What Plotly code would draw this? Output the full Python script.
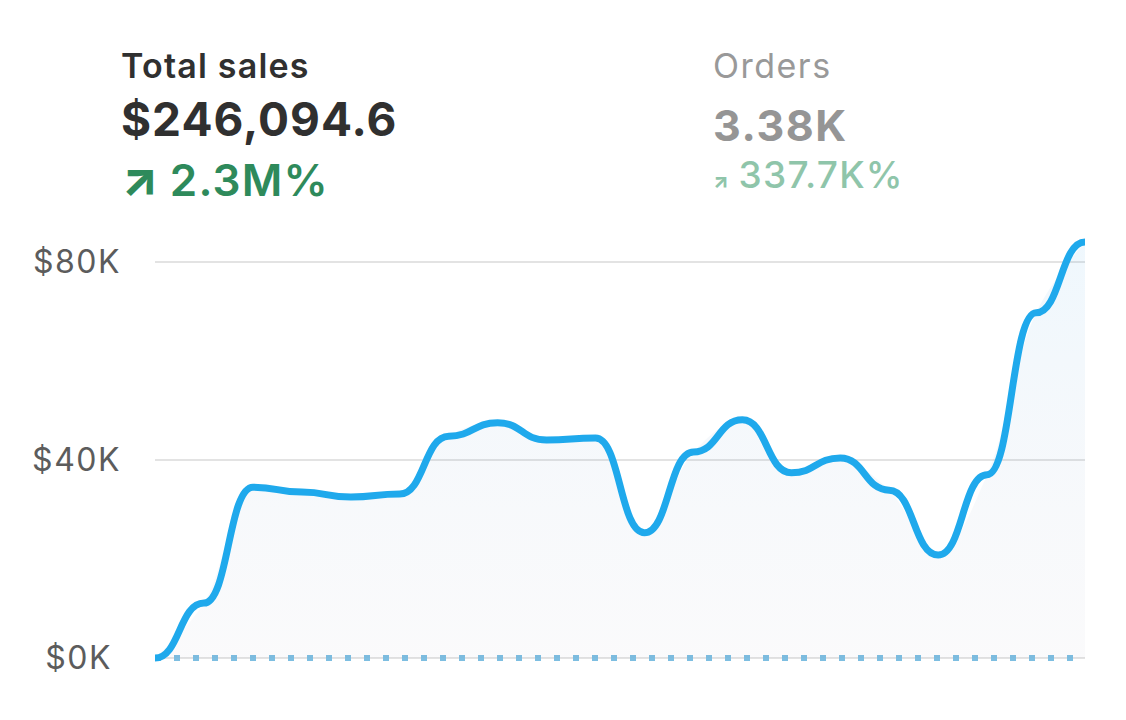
"""
Total sales sparkline card: sales per period with a dotted comparison line.
"""

import plotly.graph_objects as go

# sales per period, in thousands of dollars
periods = list(range(20))
sales_k = [0, 11.1, 34.5, 33.5, 32.5, 33.1, 44.8, 47.5, 44.0, 44.4,
           25.3, 41.6, 48.1, 37.4, 40.4, 33.9, 20.8, 37.0, 69.7, 84.0]
# comparison period (previous), all zero
previous_k = [0] * 20

y_tickvals = [0, 40, 80]
y_ticktext = ["$0K", "$40K", "$80K"]

# header texts
title_main = "Total sales"
value_main = "$246,094.6"
change_main = "2.3M%"
title_side = "Orders"
value_side = "3.38K"
change_side = "337.7K%"

W, H = 1126, 720
PAGE = 8  # default body margin of the html page
M_L, M_R, M_T, M_B = 147, 49, 224, 60

line_color = "#1fa9ec"
dot_color = "#7dbee1"
grid_color = "#e3e3e3"
green_dark = "#2e8a5b"
green_light = "#8fc5aa"
font_family = "Inter, 'Noto Sans', sans-serif"


def px_x(px):
    left = PAGE + M_L
    return (px - left) / (W - M_L - M_R)


def px_y(py):
    bottom = PAGE + H - M_B
    return (bottom - py) / (H - M_T - M_B)


def spaced(text, px):
    return f"<span style='letter-spacing:{px}px'>{text}</span>"


def bump_path(xs, ys):
    # horizontal tangent at every point, like d3.curveBumpX
    d = f"M {xs[0]},{ys[0]}"
    for i in range(1, len(xs)):
        xm = (xs[i - 1] + xs[i]) / 2
        d += f" C {xm},{ys[i - 1]} {xm},{ys[i]} {xs[i]},{ys[i]}"
    return d


fig = go.Figure()

fig.add_trace(go.Scatter(
    x=periods,
    y=previous_k,
    mode="lines",
    line=dict(color=dot_color, width=6, dash="6px,13px"),
    hoverinfo="skip",
    showlegend=False
))

# soft area under the sales line
fig.add_trace(go.Scatter(
    x=periods,
    y=sales_k,
    mode="lines",
    line=dict(color="rgba(0,0,0,0)", width=0, shape="spline", smoothing=1),
    fill="tozeroy",
    fillgradient=dict(
        type="vertical",
        colorscale=[[0, "rgba(100,100,140,0.03)"], [1, "rgba(30,150,230,0.07)"]]
    ),
    hovertemplate="$%{y:.1f}K<extra></extra>",
    showlegend=False
))

# the sales line itself
fig.add_shape(
    type="path",
    xref="x", yref="y",
    path=bump_path(periods, sales_k),
    line=dict(color=line_color, width=7),
    layer="above"
)

headers = [
    (spaced(title_main, 1.2), 119, 66, 34, 600, "#303030"),
    (spaced(value_main, 1.0), 119, 119, 46, 700, "#303030"),
    ("<span style='font-size:48px;font-weight:800'>↗</span> " + spaced(change_main, 1.2),
     119, 179, 44, 600, green_dark),
    (spaced(title_side, 1.5), 711, 65, 34, 400, "#999999"),
    (spaced(value_side, 1.6), 711, 125, 43, 700, "#959595"),
    ("<span style='font-size:20px;font-weight:800'>↗</span> " + spaced(change_side, 1.2),
     711, 175, 37, 500, green_light),
]

for text, left, mid, size, weight, color in headers:
    fig.add_annotation(
        x=px_x(left), y=px_y(mid),
        xref="paper", yref="paper",
        xanchor="left", yanchor="middle",
        text=text,
        showarrow=False,
        font=dict(family=font_family, size=size, color=color, weight=weight)
    )

# labels are centred in the reference, so the short one gets a trailing pad
tick_labels = [spaced(t, 1.5) for t in y_ticktext]
tick_labels[0] += "\u00a0"

fig.update_layout(
    width=W,
    height=H,
    dragmode=False,
    margin=dict(l=M_L, r=M_R, t=M_T, b=M_B),
    plot_bgcolor="white",
    paper_bgcolor="white",
    font=dict(family=font_family),
    xaxis=dict(
        range=[0, 19],
        showgrid=False,
        zeroline=False,
        showticklabels=False,
        fixedrange=True
    ),
    yaxis=dict(
        range=[-2, 86],
        tickmode="array",
        tickvals=y_tickvals,
        ticktext=tick_labels,
        showgrid=True,
        gridcolor=grid_color,
        gridwidth=2,
        zeroline=False,
        ticklabelstandoff=33,
        tickfont=dict(size=32, color="#5c5c5c"),
        fixedrange=True
    )
)

fig.write_html("out.html")
